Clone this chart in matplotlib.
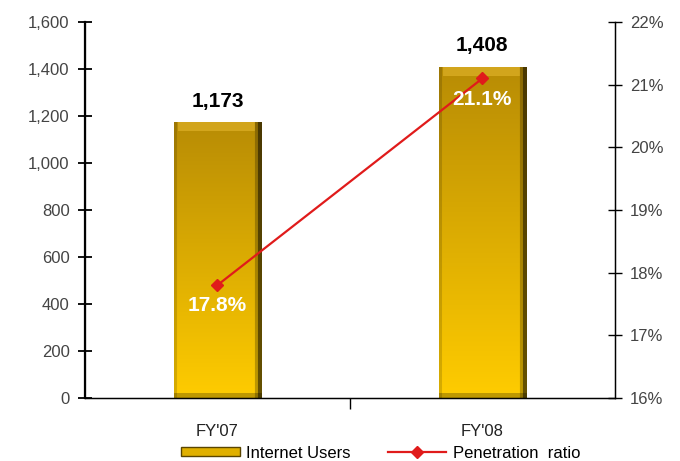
import numpy as np
import matplotlib.pyplot as plt
from matplotlib.ticker import FuncFormatter
from matplotlib.lines import Line2D
from matplotlib.patches import Patch
from matplotlib.colors import to_rgb

plt.rcParams['font.family'] = ['Liberation Sans', 'DejaVu Sans']

categories = ["FY'07", "FY'08"]
users = [1173, 1408]
penetration = [17.8, 21.1]

fig = plt.figure(figsize=(6.8, 4.61), dpi=100)
ax = fig.add_axes([0.125, 0.137, 0.779, 0.815])
ax2 = ax.twinx()

x = np.arange(len(categories))
bars = ax.bar(x, users, width=0.33, color='#E0B000', edgecolor='#5A4500', linewidth=0.6, zorder=2)


def bar_image(h_px, w_px):
    top = np.array(to_rgb('#B88C05'))
    bot = np.array(to_rgb('#FFCC00'))
    t = np.linspace(0, 1, h_px)[:, None, None]  # 0 = bottom, 1 = top
    img = bot * (1 - t) + top * t
    img = np.repeat(img, w_px, axis=1)
    u = (np.arange(w_px) + 0.5) / w_px
    r = np.arange(h_px)
    shade = np.ones((h_px, w_px))
    shade[:, u > 0.955] *= 0.4
    shade[:, (u > 0.92) & (u <= 0.955)] *= 0.75
    shade[:, u < 0.04] *= 0.85
    shade[r < 5, :] *= 0.75
    img = img * shade[:, :, None]
    # top bevel highlight
    bev = (r >= h_px - 9)[:, None] & (u > 0.05)[None, :] & (u < 0.92)[None, :]
    img[bev] = img[bev] * 0.55 + np.array(to_rgb('#F2C43A')) * 0.45
    return np.clip(img, 0, 1)


for b in bars:
    x0, y0 = b.get_x(), b.get_y()
    w, h = b.get_width(), b.get_height()
    im = ax.imshow(bar_image(int(h / 4.25), 87), aspect='auto', origin='lower',
                   extent=[x0, x0 + w, y0, y0 + h], zorder=2.5, interpolation='bilinear')
    im.set_clip_path(b)

for xi, v in zip(x, users):
    ax.text(xi, v + 50, f'{v:,}', ha='center', va='bottom', fontsize=15,
            fontweight='bold', color='black', zorder=5)

ax.set_xlim(-0.5, 1.5)
ax.set_ylim(0, 1600)
ax.set_yticks(np.arange(0, 1601, 200))
ax.yaxis.set_major_formatter(FuncFormatter(lambda v, p: f'{int(v):,}'))
ax.set_xticks([0.5])
ax.set_xticklabels([''])
ax.set_xticks(x, minor=True)
ax.set_xticklabels(categories, minor=True)
ax.tick_params(axis='x', which='minor', length=0, labelsize=12, pad=19, colors='#222222')
ax.tick_params(axis='x', which='major', length=8, width=1, direction='out')
ax.tick_params(axis='y', direction='inout', length=10, width=1.3, labelsize=12,
               labelcolor='#444444', pad=6)

ax2.plot(x, penetration, color='#E01B1B', linewidth=1.6, marker='D', markersize=6,
         zorder=4)
for xi, v in zip(x, penetration):
    ax2.text(xi, v - 0.18, f'{v:.1f}%', ha='center', va='top', fontsize=15,
             fontweight='bold', color='white', zorder=5)
ax2.set_ylim(16, 22)
ax2.set_yticks(np.arange(16, 22.1, 1))
ax2.yaxis.set_major_formatter(FuncFormatter(lambda v, p: f'{int(v)}%'))
ax2.tick_params(axis='y', direction='inout', length=10, width=1, labelsize=12,
                labelcolor='#444444', pad=6)

for a in (ax, ax2):
    a.spines['top'].set_visible(False)
ax.spines['left'].set_linewidth(1.6)
ax.spines['bottom'].set_linewidth(1)
ax2.spines['right'].set_linewidth(1)
ax.set_zorder(1)
ax2.set_zorder(2)
ax2.patch.set_visible(False)

handles = [Patch(facecolor='#E0B000', edgecolor='#5A4500'),
           Line2D([], [], color='#E01B1B', marker='D', markersize=6, linewidth=1.6)]
fig.legend(handles, ['Internet Users', 'Penetration  ratio'], loc='center',
           bbox_to_anchor=(0.56, 0.017), ncol=2, frameon=False, fontsize=12,
           handlelength=3.5, handleheight=0.5, columnspacing=2.2, handletextpad=0.4)

fig.savefig('out.png', dpi=100)
